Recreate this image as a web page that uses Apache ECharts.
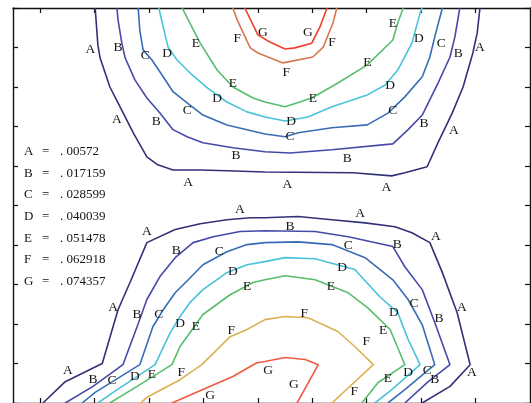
<!DOCTYPE html>
<html>
<head>
<meta charset="utf-8">
<script src="https://cdn.jsdelivr.net/npm/echarts@6/dist/echarts.min.js"></script>
<style>
html,body{margin:0;padding:0;background:#fff;}
#c{width:531px;height:403px;}
</style>
</head>
<body>
<div id="c"></div>
<script>
// Contour levels (legend)
const levelLetters = ['A','B','C','D','E','F','G'];
const levelValues = ['. 00572','. 017159','. 028599','. 040039','. 051478','. 062918','. 074357'];

// Axis ticks
const xTicks = [0,1,2,3,4,5,6,7,8];
const yTicks = [0,1,2,3,4,5,6,7,8,9,10];

// Upper lobe contours
const topA = [[1.01,10],[1.06,9.06],[1.10,8.74],[1.28,8.00],[1.43,7.60],[1.71,6.84],[1.96,6.23],[2.16,6.03],[2.44,5.90],[2.94,5.90],[3.43,5.88],[4.13,5.85],[5.75,5.83],[6.46,5.75],[6.70,5.83],[7.11,5.98],[7.31,6.59],[7.57,7.34],[7.77,8.00],[7.95,8.86],[8.03,9.37],[8.08,10]];
const topB = [[1.41,10],[1.43,9.70],[1.50,9.11],[1.56,8.74],[1.74,8.18],[1.96,7.72],[2.20,7.34],[2.44,6.92],[2.70,6.74],[2.99,6.59],[3.54,6.46],[4.13,6.36],[4.59,6.33],[5.36,6.41],[6.48,6.56],[6.76,6.92],[7.02,7.29],[7.31,8.10],[7.53,8.76],[7.62,9.27],[7.71,10]];
const topC = [[1.80,10],[1.83,9.44],[1.89,8.94],[2.05,8.69],[2.26,8.26],[2.44,7.88],[2.70,7.60],[2.99,7.29],[3.43,7.04],[3.80,6.92],[4.13,6.81],[4.50,6.74],[4.74,6.84],[5.36,6.97],[6.01,7.04],[6.39,7.34],[6.70,7.75],[7.02,8.26],[7.16,8.76],[7.25,9.27],[7.39,10]];
const topD = [[2.18,10],[2.26,9.52],[2.35,9.01],[2.51,8.69],[2.75,8.36],[3.07,7.98],[3.43,7.62],[3.80,7.37],[4.13,7.24],[4.50,7.14],[4.92,7.24],[5.36,7.50],[6.01,7.80],[6.34,8.05],[6.57,8.43],[6.83,9.11],[6.98,9.87],[7.02,10]];
const topE = [[2.61,10],[2.72,9.70],[2.94,9.11],[3.25,8.43],[3.54,8.00],[3.91,7.72],[4.13,7.62],[4.50,7.50],[4.99,7.72],[5.47,8.10],[6.01,8.56],[6.48,9.19],[6.57,9.62],[6.67,10]];
const topF = [[3.54,10],[3.62,9.70],[3.73,9.37],[3.86,8.99],[4.00,8.86],[4.46,8.61],[5.01,8.76],[5.20,9.01],[5.38,9.62],[5.45,10]];
const topG = [[3.76,10],[4.00,9.32],[4.22,9.14],[4.50,8.96],[4.68,8.99],[4.99,9.11],[5.14,9.52],[5.27,10]];

// Lower lobe contours
const botA = [[0.05,0],[0.46,0.54],[1.14,1.00],[1.43,2.36],[1.65,3.05],[1.96,4.06],[2.48,4.39],[2.94,4.54],[3.43,4.64],[3.86,4.69],[4.13,4.69],[4.74,4.72],[5.36,4.64],[5.97,4.56],[6.52,4.46],[6.83,4.31],[7.16,4.06],[7.39,3.30],[7.66,2.29],[7.90,0.97],[7.53,0.42],[7.02,0]];
const botB = [[0.46,0],[0.97,0.42],[1.52,0.97],[1.78,1.93],[1.96,2.62],[2.20,3.20],[2.48,3.68],[2.81,4.06],[3.18,4.21],[3.67,4.34],[4.13,4.36],[5.05,4.34],[5.66,4.21],[6.48,3.96],[6.70,3.45],[7.02,2.87],[7.25,2.04],[7.53,0.97],[7.13,0.54],[6.70,0]];
const botC = [[0.77,0],[1.01,0.27],[1.83,0.97],[2.07,1.93],[2.26,2.36],[2.48,2.79],[2.72,3.12],[2.99,3.50],[3.43,3.83],[3.80,4.01],[4.13,4.06],[4.74,4.08],[5.36,4.01],[5.97,3.68],[6.48,3.12],[6.76,2.62],[7.02,1.98],[7.25,0.97],[6.70,0.34],[6.39,0]];
const botD = [[1.06,0],[1.34,0.27],[2.11,0.97],[2.39,1.78],[2.57,2.19],[2.75,2.54],[2.99,2.87],[3.43,3.30],[3.80,3.50],[4.13,3.58],[4.50,3.68],[5.05,3.65],[5.78,3.38],[6.24,2.69],[6.57,2.29],[6.76,1.61],[6.98,0.97],[6.46,0.34],[6.15,0]];
const botE = [[1.28,0],[1.78,0.42],[2.42,0.97],[2.57,1.43],[2.75,1.78],[2.99,2.24],[3.49,2.74],[3.91,3.05],[4.13,3.12],[4.50,3.22],[5.05,3.12],[5.66,2.79],[6.02,2.41],[6.43,1.86],[6.70,0.97],[6.21,0.52],[5.91,0]];
const botF = [[1.84,0],[1.98,0.16],[2.57,0.59],[2.97,0.97],[3.25,1.35],[3.49,1.68],[3.80,1.86],[4.13,2.11],[4.50,2.19],[4.92,2.16],[5.47,1.81],[5.78,1.43],[6.12,0.97],[5.36,0]];
const botG = [[2.42,0],[2.99,0.34],[3.54,0.67],[3.98,1.02],[4.13,1.05],[4.50,1.15],[4.87,1.10],[5.11,0.97],[4.72,0]];

// Contour labels [x, y, letter]
const contourLabels = [
  [0.92,8.94,'A'],[1.41,7.19,'A'],[2.72,5.58,'A'],[4.54,5.53,'A'],[6.36,5.45,'A'],[7.60,6.89,'A'],[8.08,8.99,'A'],
  [1.43,8.99,'B'],[2.13,7.14,'B'],[3.60,6.26,'B'],[5.64,6.18,'B'],[7.05,7.07,'B'],[7.68,8.86,'B'],
  [1.93,8.79,'C'],[2.70,7.40,'C'],[4.59,6.74,'C'],[6.48,7.40,'C'],[7.37,9.11,'C'],
  [2.33,8.86,'D'],[3.25,7.70,'D'],[4.61,7.14,'D'],[6.43,8.05,'D'],[6.96,9.24,'D'],
  [2.86,9.09,'E'],[3.54,8.08,'E'],[5.01,7.72,'E'],[6.01,8.63,'E'],[6.48,9.62,'E'],
  [3.62,9.22,'F'],[4.52,8.36,'F'],[5.36,9.14,'F'],
  [4.09,9.39,'G'],[4.92,9.37,'G'],
  [0.51,0.82,'A'],[1.34,2.41,'A'],[1.96,4.34,'A'],[3.67,4.89,'A'],[5.88,4.79,'A'],[7.27,4.21,'A'],[7.75,2.41,'A'],[7.93,0.77,'A'],
  [0.97,0.59,'B'],[1.78,2.24,'B'],[2.50,3.86,'B'],[4.59,4.46,'B'],[6.56,4.01,'B'],[7.33,2.14,'B'],[7.25,0.59,'B'],
  [1.32,0.57,'C'],[2.18,2.24,'C'],[3.29,3.83,'C'],[5.66,3.98,'C'],[6.87,2.52,'C'],[7.11,0.82,'C'],
  [1.74,0.67,'D'],[2.57,2.01,'D'],[3.54,3.32,'D'],[5.55,3.42,'D'],[6.50,2.29,'D'],[6.76,0.77,'D'],
  [2.05,0.72,'E'],[2.86,1.93,'E'],[3.80,2.95,'E'],[5.34,2.95,'E'],[6.30,1.83,'E'],[6.39,0.62,'E'],
  [2.59,0.77,'F'],[3.51,1.83,'F'],[4.85,2.26,'F'],[5.99,1.55,'F'],[5.77,0.29,'F'],
  [3.12,0.19,'G'],[4.19,0.82,'G'],[4.66,0.47,'G']
];

const colA = '#323178', colB = '#4649a8', colC = '#386cb4', colD = '#48c3d8', colE = '#58bd6c';
const colFTop = '#d8774f', colFBot = '#dbb152', colGTop = '#ee3f2b', colGBot = '#f05a42';

function contour(data, color) {
  return {
    type: 'line', data: data, symbol: 'none', smooth: false, silent: true,
    lineStyle: { color: color, width: 1.6 }, z: 2, animation: false
  };
}

const serif = '"Liberation Serif", "DejaVu Serif", serif';
const textColor = '#141414';

const axisCommon = {
  type: 'value',
  axisLine: { show: true, onZero: false, lineStyle: { color: '#111', width: 1.4 } },
  axisTick: { show: true, inside: true, length: 5, lineStyle: { color: '#111', width: 1.2 } },
  axisLabel: { show: false },
  splitLine: { show: false }
};

const chart = echarts.init(document.getElementById('c'), null, { renderer: 'canvas' });

const graphics = [];
levelLetters.forEach((L, i) => {
  const y = 152 + i * 21.7;
  graphics.push({ type: 'text', left: 24, top: y - 7, style: { text: L, font: '13px ' + serif, fill: textColor } });
  graphics.push({ type: 'text', left: 42, top: y - 7, style: { text: '=', font: '13px ' + serif, fill: textColor } });
  graphics.push({ type: 'text', left: 60, top: y - 7, style: { text: levelValues[i], font: '13px ' + serif, fill: textColor } });
});

chart.setOption({
  animation: false,
  backgroundColor: '#fff',
  grid: { left: 13, top: 8, width: 517, height: 395.5, containLabel: false },
  xAxis: [
    Object.assign({}, axisCommon, { position: 'bottom', min: -0.5, max: 9,
      axisTick: Object.assign({}, axisCommon.axisTick, { customValues: xTicks }) }),
    Object.assign({}, axisCommon, { position: 'top', min: -0.5, max: 9,
      axisTick: Object.assign({}, axisCommon.axisTick, { customValues: xTicks }) })
  ],
  yAxis: [
    Object.assign({}, axisCommon, { position: 'left', min: 0, max: 10, interval: 1 }),
    Object.assign({}, axisCommon, { position: 'right', min: 0, max: 10, interval: 1 })
  ],
  series: [
    contour(topA, colA), contour(topB, colB), contour(topC, colC), contour(topD, colD),
    contour(topE, colE), contour(topF, colFTop), contour(topG, colGTop),
    contour(botA, colA), contour(botB, colB), contour(botC, colC), contour(botD, colD),
    contour(botE, colE), contour(botF, colFBot), contour(botG, colGBot),
    {
      type: 'scatter', data: contourLabels, symbolSize: 0, silent: true, z: 5,
      itemStyle: { color: '#fff', opacity: 1 },
      label: { show: true, position: 'inside', formatter: p => p.data[2], opacity: 1,
        fontFamily: serif, fontSize: 13.5, color: textColor, textBorderWidth: 0 },
      labelLayout: { hideOverlap: false }
    }
  ],
  graphic: graphics
});
</script>
</body>
</html>
